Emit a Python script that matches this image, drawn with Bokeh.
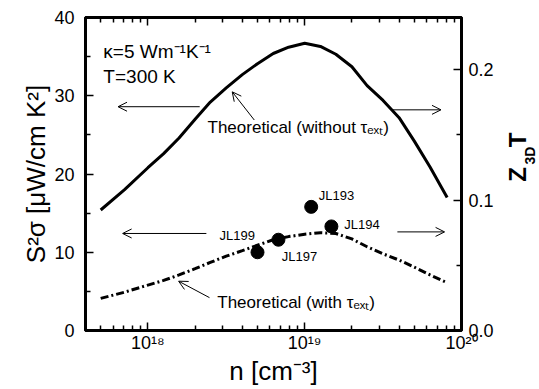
from bokeh.plotting import figure
from bokeh.models import Range1d, LinearAxis, LogAxis, FixedTicker, Arrow, OpenHead, Label
from bokeh.embed import file_html
from bokeh.resources import INLINE
import math

# ---- data ----
n_curve = [5.0e17, 7.1e17, 1.0e18, 1.26e18, 1.58e18, 2.0e18, 2.5e18, 3.16e18, 4.0e18, 5.0e18,
           6.3e18, 7.9e18, 1.0e19, 1.26e19, 1.58e19, 2.0e19, 2.5e19, 3.16e19, 4.0e19, 5.0e19,
           6.3e19, 8.1e19]
s_without = [15.4, 18.0, 20.8, 22.6, 24.6, 27.0, 29.2, 31.0, 32.7, 34.1, 35.4, 36.2, 36.7, 36.3,
             35.3, 33.7, 31.3, 29.4, 27.2, 24.2, 20.9, 17.0]
s_with = [4.1, 4.9, 5.8, 6.4, 7.1, 7.9, 8.7, 9.5, 10.2, 10.9, 11.6, 12.0, 12.3, 12.5, 12.4, 11.7,
          10.7, 9.8, 9.0, 8.1, 7.1, 6.1]

samples = ["JL199", "JL197", "JL193", "JL194"]
n_samples = [5.0e18, 6.8e18, 1.1e19, 1.48e19]
s_samples = [10.0, 11.6, 15.8, 13.3]

x_ticks = [1e18, 1e19, 1e20]
x_tick_labels = ["10\u00b9\u2078", "10\u00b9\u2079", "10\u00b2\u2070"]
y_ticks = [0, 10, 20, 30, 40]
y_minor = [5, 15, 25, 35]
zt_ticks = [0.0, 0.1, 0.2]
zt_tick_labels = ["0.0", "0.1", "0.2"]
zt_minor = [0.05, 0.15]

FONT = "Liberation Sans"
NB = "\u00a0"

p = figure(width=539, height=389, x_axis_type="log",
           x_range=Range1d(4e17, 1e20), y_range=Range1d(0, 40),
           output_backend="svg", toolbar_location=None,
           min_border_left=85, min_border_right=77, min_border_top=17, min_border_bottom=59)
p.extra_y_ranges = {"zt": Range1d(0, 0.24)}
p.xgrid.visible = False
p.ygrid.visible = False
p.outline_line_color = "black"
p.outline_line_width = 3
p.background_fill_color = "white"
p.border_fill_color = "white"

x_minor = [k * 10.0 ** e for e in (17, 18, 19) for k in range(2, 10)]

def style(ax, labels=True):
    ax.axis_line_width = 3
    ax.axis_line_color = "black"
    ax.major_tick_in = 8
    ax.major_tick_out = 0
    ax.minor_tick_in = 5
    ax.minor_tick_out = 0
    ax.major_tick_line_width = 1.5
    ax.minor_tick_line_width = 1.5
    ax.major_label_text_font = FONT
    ax.major_label_text_font_size = "18px" if labels else "1px"
    ax.major_label_text_color = "black" if labels else None
    ax.axis_label_text_font = FONT
    ax.axis_label_text_font_style = "normal"
    ax.axis_label_text_color = "black"

xa = p.xaxis[0]
xa.ticker = FixedTicker(ticks=x_ticks, minor_ticks=x_minor)
xa.major_label_overrides = dict(zip(x_ticks, x_tick_labels))
style(xa)
xa.major_label_standoff = 2
xa.axis_label = "n [cm\u207b\u00b3]"
xa.axis_label_text_font_size = "26px"
xa.axis_label_standoff = 0

ya = p.yaxis[0]
ya.ticker = FixedTicker(ticks=y_ticks, minor_ticks=y_minor)
style(ya)
ya.major_label_standoff = 11
ya.axis_label = "S\u00b2\u03c3 [\u03bcW/cm K\u00b2]"
ya.axis_label_text_font_size = "26px"
ya.axis_label_standoff = 0

top = LogAxis(ticker=FixedTicker(ticks=x_ticks, minor_ticks=x_minor))
style(top, labels=False)
top.major_label_standoff = 0
p.add_layout(top, "above")

right = LinearAxis(y_range_name="zt", ticker=FixedTicker(ticks=zt_ticks, minor_ticks=zt_minor))
right.major_label_overrides = dict(zip(zt_ticks, zt_tick_labels))
style(right)
right.major_label_standoff = 7
p.add_layout(right, "right")

# ---- curves and points ----
p.line(n_curve, s_without, line_width=3, color="black")
p.line(n_curve, s_with, line_width=3, color="black", line_dash="8 3 2 3")
p.scatter(n_samples, s_samples, size=13, color="black")

# sample labels
lab_pos = {"JL199": (2.86e18, 12.2), "JL197": (7.15e18, 9.4), "JL193": (1.23e19, 17.3), "JL194": (1.79e19, 13.6)}
for name in samples:
    lx, ly = lab_pos[name]
    p.add_layout(Label(x=lx, y=ly, text=name, text_font=FONT, text_font_size="13px",
                       text_baseline="middle", text_align="left", text_color="black"))

def txt(x, y, t, size, place="center", **kw):
    p.add_layout(Label(x=x, y=y, text=t, text_font=FONT, text_font_size=size,
                       text_baseline="middle", text_align="left", text_color="black", **kw), place)

txt(5.2e17, 35.6, "\u03ba=5 Wm\u207b\u00b9K\u207b\u00b9", "19px")
txt(5.2e17, 32.4, "T=300 K", "19px")
txt(2.4e18, 26.0, "Theoretical (without \u03c4\u2091\u2093\u209c)", "17px")
txt(2.77e18, 3.6, "Theoretical (with \u03c4\u2091\u2093\u209c)", "17px")

# arrows
arrows = [
    (2.14e18, 28.6, 6.45e17, 28.6),
    (3.55e19, 28.2, 7.4e19, 28.2),
    (2.36e18, 12.4, 6.9e17, 12.4),
    (3.9e19, 12.6, 7.8e19, 12.6),
    (4.77e18, 26.9, 3.45e18, 30.5),
    (2.47e18, 4.2, 1.57e18, 6.3),
]
for xs, ys, xe, ye in arrows:
    p.add_layout(Arrow(end=OpenHead(size=9, line_width=1, line_color="black"),
                       x_start=xs, y_start=ys, x_end=xe, y_end=ye,
                       line_width=1, line_color="black"))

# right axis title Z_3D T, rotated, kept in the right side panel so it is not clipped
txt(2.26e20, 19.0, "Z" + NB * 3 + "T", "24px", place="right", angle=math.pi / 2, text_font_style="bold")
txt(2.74e20, 21.2, "3D", "14px", place="right", angle=math.pi / 2, text_font_style="bold")

open("out.html", "w").write(file_html(p, INLINE))
